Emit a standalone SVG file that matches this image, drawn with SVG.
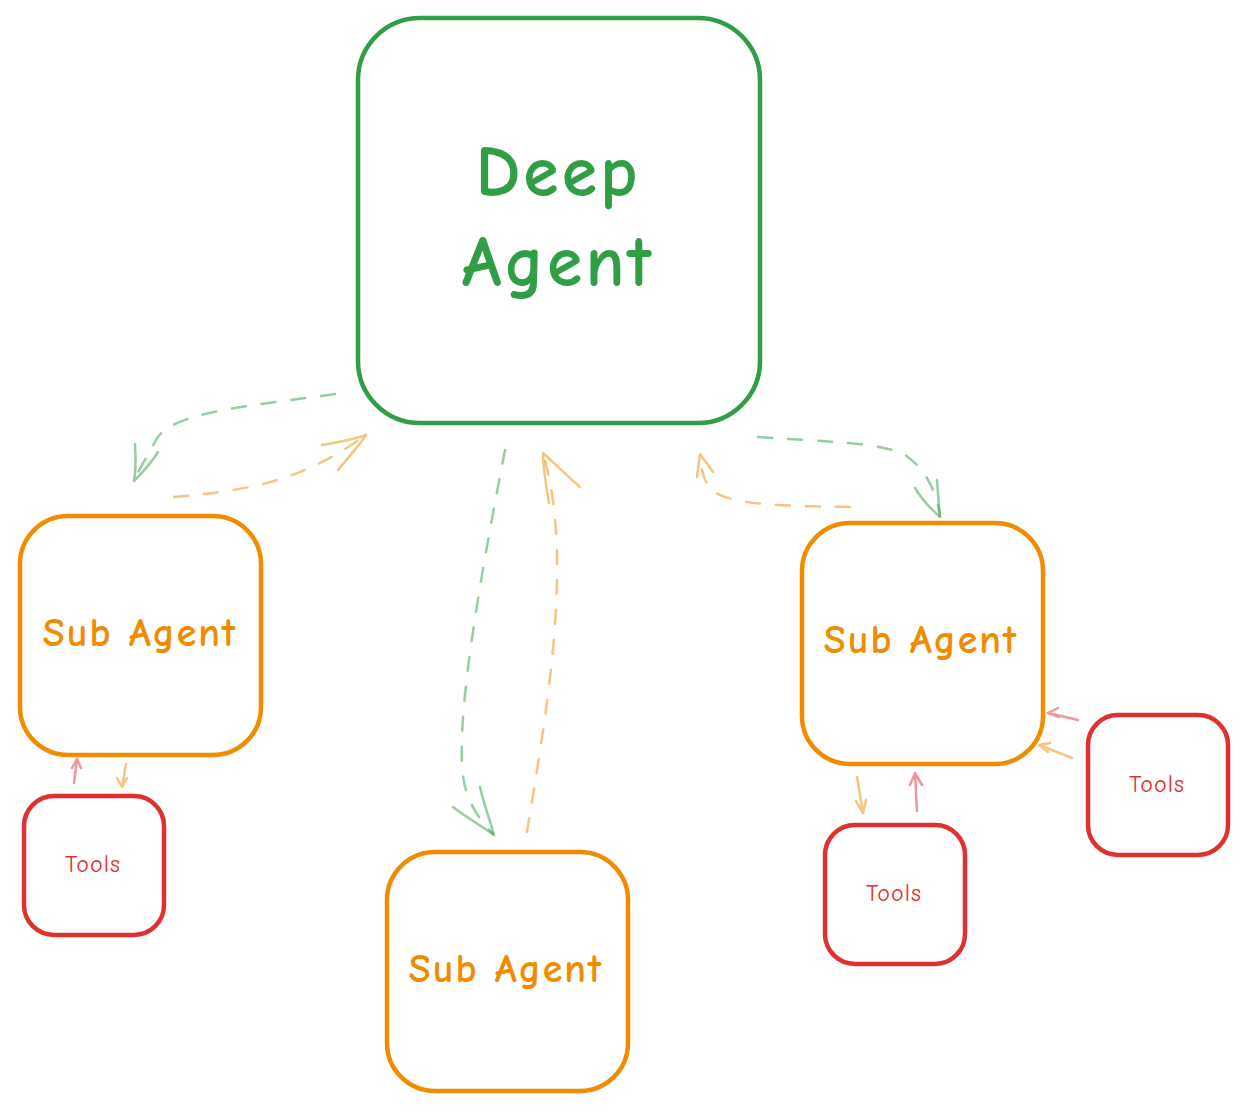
<svg xmlns="http://www.w3.org/2000/svg" width="1246" height="1111" viewBox="0 0 1246 1111">
<style>
.box{fill:#fff;stroke-width:4.5;stroke-linejoin:round}
.g{stroke:#2f9e44}.o{stroke:#f08c00}.r{stroke:#e03131}
.t{font-family:"Comic Neue","Noto Sans","Liberation Sans",sans-serif;text-anchor:middle;dominant-baseline:central;font-weight:bold}
.conn path{fill:none;stroke-width:2.5;stroke-linecap:round;stroke-linejoin:round;opacity:0.5}
.d{stroke-dasharray:14 16}
.ga{stroke:#2f9e44}.oa{stroke:#f08c00}.ra{stroke:#e03131}
</style>
<rect width="1246" height="1111" fill="#fff"/>
<g id="deep-agent">
<rect class="box g" x="358" y="18" width="402" height="405" rx="62"/>
<text class="t" x="558" y="172" font-size="72" letter-spacing="3" fill="#2f9e44">Deep</text>
<text class="t" x="558" y="262" font-size="72" letter-spacing="3" fill="#2f9e44">Agent</text>
</g>
<g id="sub-agent-left">
<rect class="box o" x="20" y="516" width="241" height="239" rx="48"/>
<text class="t" x="140" y="633" font-size="40" letter-spacing="2" fill="#f08c00">Sub Agent</text>
</g>
<g id="sub-agent-middle">
<rect class="box o" x="387" y="852" width="241" height="239" rx="48"/>
<text class="t" x="506" y="969" font-size="40" letter-spacing="2" fill="#f08c00">Sub Agent</text>
</g>
<g id="sub-agent-right">
<rect class="box o" x="802" y="523" width="241" height="241" rx="48"/>
<text class="t" x="921" y="640" font-size="40" letter-spacing="2" fill="#f08c00">Sub Agent</text>
</g>
<g id="tools-left">
<rect class="box r" x="24" y="796" width="140" height="139" rx="30"/>
<text class="t" x="93" y="864" font-size="24" letter-spacing="1" font-weight="normal" fill="#e03131" style="font-weight:normal">Tools</text>
</g>
<g id="tools-right-bottom">
<rect class="box r" x="825" y="825" width="140" height="139" rx="30"/>
<text class="t" x="894" y="893" font-size="24" letter-spacing="1" fill="#e03131" style="font-weight:normal">Tools</text>
</g>
<g id="tools-right">
<rect class="box r" x="1088" y="715" width="140" height="140" rx="30"/>
<text class="t" x="1157" y="784" font-size="24" letter-spacing="1" fill="#e03131" style="font-weight:normal">Tools</text>
</g>
<g id="connectors" class="conn">
<path class="ga d" d="M335 394 C250 406 170 412 156 440 C148 455 140 468 134 480"/>
<path class="ga" d="M135 444 C136 460 136 470 134 481 M158 452 C150 465 142 473 134 481"/>
<path class="oa d" d="M174 497 C250 490 300 482 366 435"/>
<path class="oa" d="M322 445 C340 442 352 440 366 435 M338 470 C348 458 358 447 366 435"/>
<path class="ga d" d="M505 450 C482 570 450 740 466 790 C472 810 482 822 493 834"/>
<path class="ga" d="M453 807 C470 820 482 826 494 835 M480 787 C484 805 490 820 494 835"/>
<path class="oa d" d="M527 832 C545 720 575 560 543 453"/>
<path class="oa" d="M549 503 C546 485 543 468 543 453 M580 487 C566 475 554 463 543 453"/>
<path class="ga d" d="M758 437 C830 442 880 442 905 455 C925 468 936 490 940 516"/>
<path class="ga" d="M937 480 C938 494 939 505 940 517 M915 488 C922 500 930 508 940 517"/>
<path class="oa d" d="M850 507 C780 506 730 505 712 490 C704 482 701 470 700 455"/>
<path class="oa" d="M697 477 C698 468 699 462 700 454 M713 472 C709 466 704 460 700 454"/>
<path class="ra" d="M74 783 L77 759 M72 768 L77 759 L81 768"/>
<path class="oa" d="M126 764 L122 787 M117 778 L122 787 L127 778"/>
<path class="oa" d="M857 777 L863 813 M856 801 L863 813 L866 800"/>
<path class="ra" d="M917 811 L915 773 M910 785 L915 773 L922 785"/>
<path class="ra" d="M1078 720 L1048 713 M1058 708 L1048 713 L1059 717"/>
<path class="oa" d="M1072 758 L1039 745 M1050 743 L1039 745 L1048 752"/>
</g>
</svg>
